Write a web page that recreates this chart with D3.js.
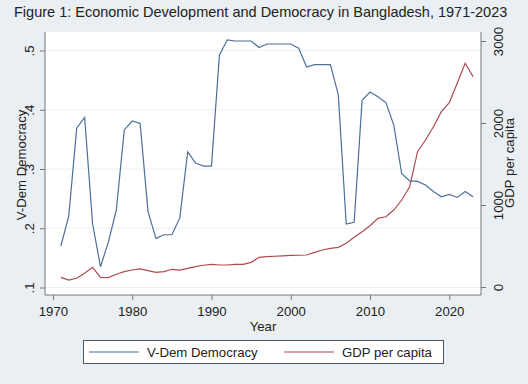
<!DOCTYPE html>
<html>
<head>
<meta charset="utf-8">
<script src="https://cdn.jsdelivr.net/npm/d3@7"></script>
<style>
  body { margin: 0; background: #e9eff2; }
  svg { display: block; font-family: "Liberation Sans", Arial, sans-serif; }
</style>
</head>
<body>
<svg id="chart"></svg>
<script>
const years = d3.range(1971, 2024);

const vdem = [0.170, 0.221, 0.369, 0.387, 0.208, 0.135, 0.177, 0.231, 0.366, 0.381,
              0.377, 0.228, 0.183, 0.189, 0.189, 0.217, 0.329, 0.310, 0.305, 0.305,
              0.492, 0.518, 0.516, 0.516, 0.516, 0.505, 0.511, 0.511, 0.511, 0.511,
              0.504, 0.472, 0.476, 0.476, 0.476, 0.425, 0.207, 0.210, 0.416, 0.430,
              0.422, 0.412, 0.374, 0.292, 0.280, 0.279, 0.273, 0.262, 0.253, 0.257,
              0.252, 0.262, 0.253];

const gdp = [118, 85, 106, 167, 240, 118, 115, 155, 187, 207,
             220, 199, 179, 187, 216, 207, 228, 248, 265, 277,
             268, 268, 277, 277, 301, 362, 370, 375, 380, 385,
             387, 390, 423, 451, 472, 484, 533, 606, 675, 748,
             837, 857, 939, 1061, 1223, 1650, 1793, 1955, 2138, 2248,
             2484, 2728, 2565];

const xTicks = [1970, 1980, 1990, 2000, 2010, 2020];
const leftTicks = [0.1, 0.2, 0.3, 0.4, 0.5];
const rightTicks = [0, 1000, 2000, 3000];

const width = 528, height = 384;
const plot = {left: 45, right: 481, top: 32, bottom: 295};
const blue = "#4d6f98", red = "#b04a4f";
const fs = "13.2px";

const svg = d3.select("#chart").attr("width", width).attr("height", height);

svg.append("rect").attr("width", width).attr("height", height).attr("fill", "#e9eff2");

const x = d3.scaleLinear().domain([1969, 2024]).range([plot.left, plot.right]);
const yL = d3.scaleLinear().domain([0.1, 0.5]).range([287.5, 50.5]);
const yR = d3.scaleLinear().domain([0, 3000]).range([287, 41]);

svg.append("rect")
   .attr("x", plot.left).attr("y", plot.top)
   .attr("width", plot.right - plot.left).attr("height", plot.bottom - plot.top)
   .attr("fill", "white");

// gridlines
svg.append("g").selectAll("line")
   .data(leftTicks).enter().append("line")
   .attr("x1", plot.left).attr("x2", plot.right)
   .attr("y1", d => yL(d)).attr("y2", d => yL(d))
   .attr("stroke", "#e8f0f3").attr("stroke-width", 1);

const fmtL = d => d3.format(".1f")(d).replace(/^0/, "");

// left axis
const gL = svg.append("g").attr("transform", `translate(${plot.left},0)`)
   .call(d3.axisLeft(yL).tickValues(leftTicks).tickSize(5).tickFormat(fmtL));
gL.selectAll("text")
   .attr("transform", "translate(-11,0) rotate(-90)")
   .attr("x", 0).attr("y", 0).attr("dy", "0").attr("text-anchor", "middle");

// right axis
const gR = svg.append("g").attr("transform", `translate(${plot.right},0)`)
   .call(d3.axisRight(yR).tickValues(rightTicks).tickSize(5).tickFormat(d3.format("d")));
gR.selectAll("text")
   .attr("transform", "translate(22,0) rotate(-90)")
   .attr("x", 0).attr("y", 0).attr("dy", "0").attr("text-anchor", "middle");

// bottom axis
const gX = svg.append("g").attr("transform", `translate(0,${plot.bottom})`)
   .call(d3.axisBottom(x).tickValues(xTicks).tickSize(5).tickFormat(d3.format("d")));
gX.selectAll("text").attr("dy", "0.95em");

[gL, gR, gX].forEach(g => {
  g.select(".domain").attr("stroke", "#777");
  g.selectAll(".tick line").attr("stroke", "#777");
  g.selectAll("text").attr("fill", "#222").style("font-size", fs);
});
gX.select(".domain").attr("d", `M${plot.left},0H${plot.right}`);
gL.select(".domain").attr("d", `M0,${plot.top}V${plot.bottom}`);
gR.select(".domain").attr("d", `M0,${plot.top}V${plot.bottom}`);

// lines
const lineL = d3.line().x((d, i) => x(years[i])).y(d => yL(d));
const lineR = d3.line().x((d, i) => x(years[i])).y(d => yR(d));

svg.append("path").datum(gdp).attr("d", lineR)
   .attr("fill", "none").attr("stroke", red).attr("stroke-width", 1.2);
svg.append("path").datum(vdem).attr("d", lineL)
   .attr("fill", "none").attr("stroke", blue).attr("stroke-width", 1.2);

// titles
svg.append("text").attr("x", 14).attr("y", 17)
   .style("font-size", "14.5px").attr("fill", "#222")
   .text("Figure 1: Economic Development and Democracy in Bangladesh, 1971-2023");

svg.append("text").attr("x", (plot.left + plot.right) / 2).attr("y", 331)
   .attr("text-anchor", "middle").style("font-size", fs).attr("fill", "#222")
   .text("Year");

svg.append("text").attr("transform", "translate(26,165) rotate(-90)")
   .attr("text-anchor", "middle").style("font-size", fs).attr("fill", "#222")
   .text("V-Dem Democracy");

svg.append("text").attr("transform", "translate(514,163) rotate(-90)")
   .attr("text-anchor", "middle").style("font-size", fs).attr("fill", "#222")
   .text("GDP per capita");

// legend
const legend = svg.append("g");
legend.append("rect").attr("x", 83.5).attr("y", 340.5).attr("width", 360).attr("height", 23)
   .attr("fill", "white").attr("stroke", "#555").attr("stroke-width", 1);

const legendItems = [
  {label: "V-Dem Democracy", color: blue, x: 89},
  {label: "GDP per capita", color: red, x: 284}
];
const li = legend.selectAll("g.item").data(legendItems).enter().append("g");
li.append("line")
  .attr("x1", d => d.x).attr("x2", d => d.x + 50)
  .attr("y1", 352).attr("y2", 352)
  .attr("stroke", d => d.color).attr("stroke-width", 1.2);
li.append("text")
  .attr("x", d => d.x + 58).attr("y", 357)
  .style("font-size", fs).attr("fill", "#222")
  .text(d => d.label);
</script>
</body>
</html>
